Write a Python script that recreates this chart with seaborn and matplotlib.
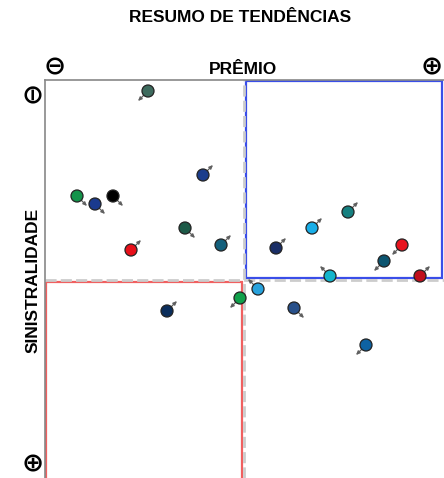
import matplotlib
matplotlib.use("Agg")
import matplotlib.pyplot as plt
import matplotlib.transforms as mtransforms
from matplotlib.patches import Rectangle
import seaborn as sns
import pandas as pd

sns.set_style("white")
plt.rcParams['font.family'] = ['Liberation Sans', 'DejaVu Sans']
plt.rcParams['text.color'] = 'black'

# premio (0-100, left to right) and sinistralidade (0-100, top to bottom)
premio = [25.75, 39.5, 8, 12.5, 17, 35, 21.5, 44, 30.5, 48.75,
          57.75, 66.75, 75.75, 89.25, 84.75, 71.25, 93.75, 53.25, 62.25, 80.25]
sinistralidade = [2.75, 23.75, 29, 31, 29, 37, 42.5, 41.25, 57.75, 54.5,
                  42, 37, 33, 41.25, 45.25, 49, 49, 52.25, 57, 66.25]
tendencia = ["sw", "ne", "se", "se", "se", "se", "ne", "ne", "ne", "sw",
             "ne", "ne", "ne", "sw", "sw", "nw", "ne", "nw", "se", "sw"]
cores = ["#3e6b5e", "#1b3d8c", "#13934a", "#1a3a8e", "#000000", "#1d5a48",
         "#e8101a", "#14607c", "#0b2e5c", "#10a04a", "#1a2e66", "#18aee8",
         "#168080", "#e8141e", "#0c5570", "#14b4cc", "#c0101e", "#28a2dc",
         "#28508a", "#0e62a2"]
ids = [f"p{i}" for i in range(len(premio))]

df = pd.DataFrame({"id": ids, "premio": premio, "sin": sinistralidade, "tend": tendencia})

fig = plt.figure(figsize=(4.44, 4.78), dpi=100)
ax = fig.add_axes([45 / 444, 0, 399 / 444, 398 / 478])
ax.set_xlim(0, 99.75)
ax.set_ylim(99.5, 0)

# quadrants
ax.add_patch(Rectangle((50.3, 0.3), 48.9, 49.3, fill=False, edgecolor="#3a4ee8", lw=1.6, zorder=1))
ax.add_patch(Rectangle((0.3, 50.5), 49.0, 49.5, fill=False, edgecolor="#f06060", lw=1.6, zorder=1))
ax.axvline(49.8, color="#cccccc", lw=2, ls=(0, (4, 1.5)), zorder=1)
ax.axhline(50, color="#cccccc", lw=2, ls=(0, (4, 1.5)), zorder=1)

sns.scatterplot(data=df, x="premio", y="sin", hue="id", palette=dict(zip(ids, cores)),
                s=75, edgecolor="#222222", linewidth=0.9, legend=False, ax=ax, zorder=3)

dirs = {"ne": (1, 1), "se": (1, -1), "sw": (-1, -1), "nw": (-1, 1)}
for x, y, t in zip(premio, sinistralidade, tendencia):
    sx, sy = dirs[t]
    tail = ax.transData + mtransforms.ScaledTranslation(sx * 0.04, sy * 0.04, fig.dpi_scale_trans)
    head = ax.transData + mtransforms.ScaledTranslation(sx * 0.10, sy * 0.10, fig.dpi_scale_trans)
    ax.annotate("", xy=(x, y), xycoords=head, xytext=(x, y), textcoords=tail,
                arrowprops=dict(arrowstyle="-|>,head_length=0.22,head_width=0.1",
                                color="#606060", lw=0.9, shrinkA=0, shrinkB=0), zorder=2)

ax.set_xticks([])
ax.set_yticks([])
ax.set_xlabel("")
ax.set_ylabel("")
for side in ["right", "bottom"]:
    ax.spines[side].set_visible(False)
for side in ["left", "top"]:
    ax.spines[side].set_color("#888888")
    ax.spines[side].set_linewidth(1.2)

fig.text(240 / 444, 1 - 18 / 478, "RESUMO DE TENDÊNCIAS", ha="center", va="center",
         fontsize=12.5, fontweight="bold")
fig.text(243 / 444, 1 - 69 / 478, "PRÊMIO", ha="center", va="center",
         fontsize=12.5, fontweight="bold")
fig.text(33 / 444, 1 - 280 / 478, "SINISTRALIDADE", ha="center", va="center",
         fontsize=12.5, fontweight="bold", rotation=90)

sym = dict(ha="center", va="center", fontsize=19, fontweight="bold", family="DejaVu Sans")
fig.text(55 / 444, 1 - 67 / 478, "⊖", **sym)
fig.text(432 / 444, 1 - 67 / 478, "⊕", **sym)
fig.text(33 / 444, 1 - 92 / 478, "⊖", rotation=90, **sym)
fig.text(33 / 444, 1 - 464 / 478, "⊕", **sym)

fig.savefig("out.png", dpi=100)
